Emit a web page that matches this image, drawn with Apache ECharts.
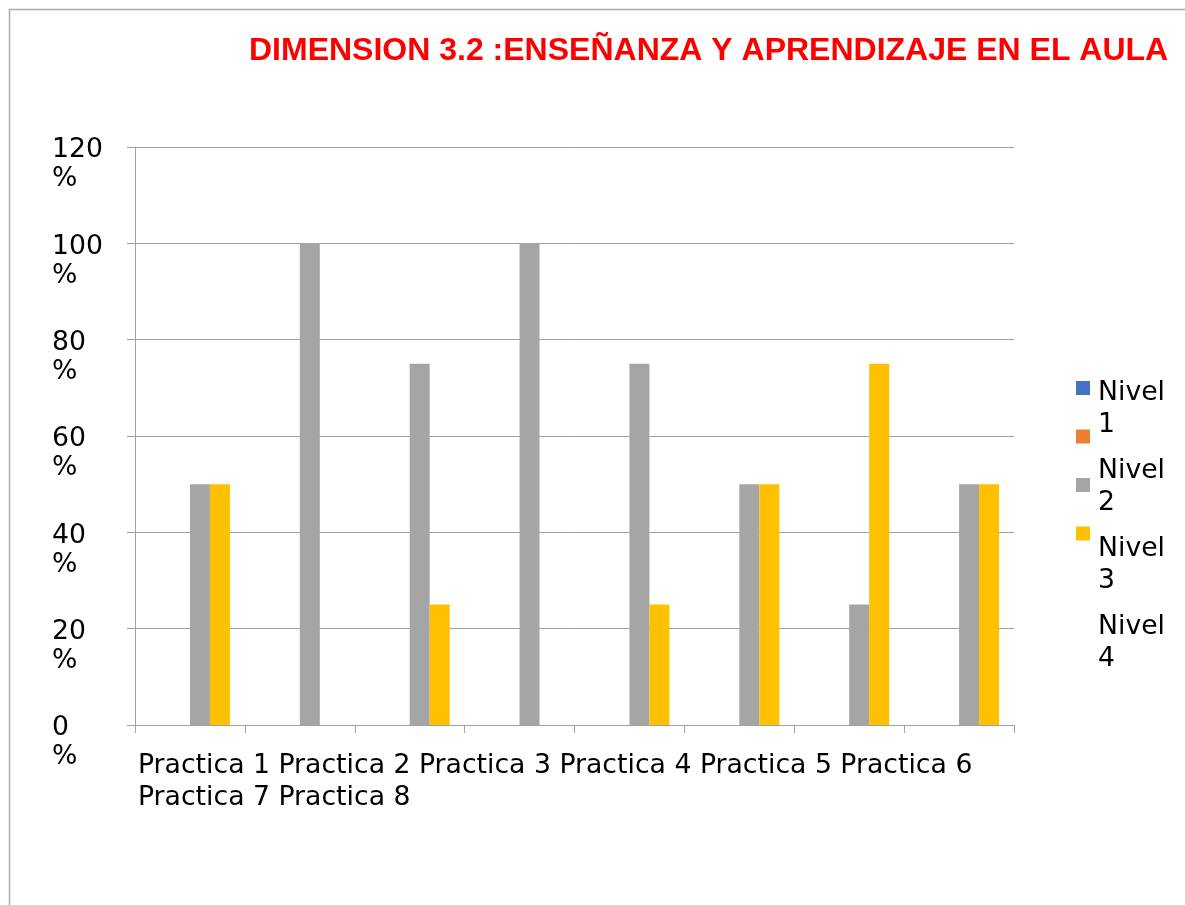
<!DOCTYPE html>
<html>
<head>
<meta charset="utf-8">
<script src="https://cdn.jsdelivr.net/npm/echarts@6/dist/echarts.min.js"></script>
<style>
    html, body { margin: 0; padding: 0; background: #fff; }
    #chart { width: 1185px; height: 905px; }
</style>
</head>
<body>
<div id="chart"></div>
<script>
const categories = ['Practica 1', 'Practica 2', 'Practica 3', 'Practica 4', 'Practica 5', 'Practica 6', 'Practica 7', 'Practica 8'];
const seriesNames = ['Nivel 1', 'Nivel 2', 'Nivel 3', 'Nivel 4'];
const nivel1 = [0, 0, 0, 0, 0, 0, 0, 0];
const nivel2 = [0, 0, 0, 0, 0, 0, 0, 0];
const nivel3 = [50, 100, 75, 100, 75, 50, 25, 50];
const nivel4 = [50, 0, 25, 0, 25, 50, 75, 50];
const colors = ['#4472C4', '#ED7D31', '#A5A5A5', '#FFC000'];

const chart = echarts.init(document.getElementById('chart'));
const font = 'DejaVu Sans';
const fontSize = 26.7;
const lineColor = '#a0a0a0';

chart.setOption({
    animation: false,
    color: colors,
    title: {
        text: 'DIMENSION 3.2 :ENSEÑANZA Y APRENDIZAJE EN EL AULA',
        left: 244,
        top: 30,
        textStyle: {
            color: '#FF0000',
            fontFamily: 'Liberation Sans',
            fontWeight: 'bold',
            fontSize: 32
        }
    },
    // legend markers and legend texts are spaced differently in the original
    legend: [{
        orient: 'vertical',
        left: 1071,
        top: 376,
        itemWidth: 14,
        itemHeight: 14,
        itemGap: 34.5,
        selectedMode: false,
        icon: 'rect',
        data: seriesNames,
        formatter: function () { return ''; }
    }, {
        orient: 'vertical',
        left: 1087,
        top: 372,
        itemWidth: 1,
        itemHeight: 1,
        itemGap: 14,
        selectedMode: false,
        itemStyle: { opacity: 0 },
        data: seriesNames,
        formatter: function (name) { return name.replace(' ', '\n'); },
        textStyle: {
            fontFamily: font,
            fontSize: fontSize,
            lineHeight: 32,
            color: '#000'
        }
    }],
    grid: {
        left: 135,
        right: 171,
        top: 147,
        bottom: 180
    },
    xAxis: {
        type: 'category',
        data: categories,
        axisLine: { lineStyle: { color: lineColor } },
        axisTick: { show: true, length: 8, lineStyle: { color: lineColor } },
        axisLabel: { show: false }
    },
    yAxis: {
        type: 'value',
        min: 0,
        max: 120,
        interval: 20,
        axisLine: { show: true, lineStyle: { color: lineColor } },
        axisTick: { show: true, length: 8, lineStyle: { color: lineColor } },
        splitLine: { lineStyle: { color: lineColor } },
        axisLabel: {
            // empty first line keeps the number next to its gridline
            formatter: function (v) { return '{s|}\n' + v + '\n%'; },
            showMinLabel: true,
            showMaxLabel: true,
            hideOverlap: false,
            align: 'left',
            margin: 83,
            fontFamily: font,
            fontSize: fontSize,
            lineHeight: 29,
            color: '#000',
            rich: {
                s: { lineHeight: 36, fontSize: fontSize }
            }
        }
    },
    graphic: [{
        type: 'rect',
        silent: true,
        shape: { x: 9.5, y: 9.5, width: 1300, height: 1000 },
        style: { fill: 'none', stroke: '#aaaaaa', lineWidth: 1.5 }
    }, {
        type: 'text',
        left: 138,
        top: 750,
        style: {
            text: categories.join(' '),
            width: 876,
            overflow: 'break',
            fontFamily: font,
            fontSize: fontSize,
            lineHeight: 32,
            fill: '#000'
        }
    }],
    series: [{
        name: seriesNames[0],
        type: 'bar',
        barWidth: 20,
        barGap: '0%',
        data: nivel1
    }, {
        name: seriesNames[1],
        type: 'bar',
        barWidth: 20,
        barGap: '0%',
        data: nivel2
    }, {
        name: seriesNames[2],
        type: 'bar',
        barWidth: 20,
        barGap: '0%',
        data: nivel3
    }, {
        name: seriesNames[3],
        type: 'bar',
        barWidth: 20,
        barGap: '0%',
        data: nivel4
    }]
});
</script>
</body>
</html>
